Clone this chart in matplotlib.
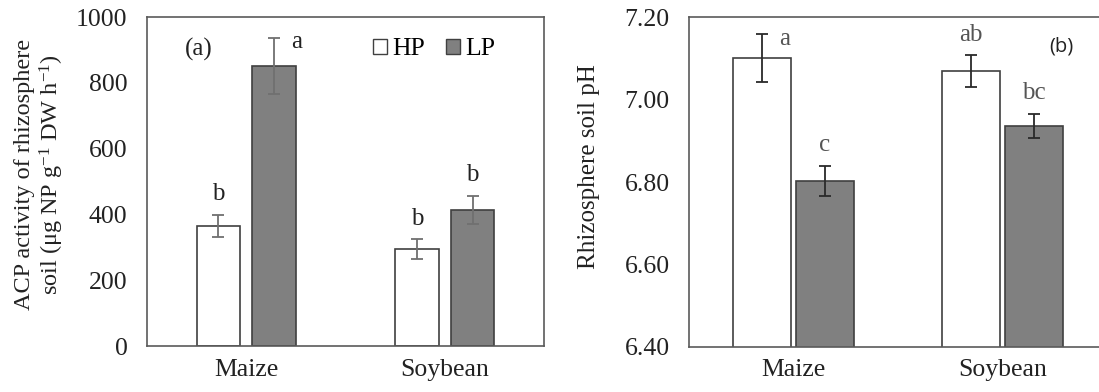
import numpy as np
import matplotlib
matplotlib.use("Agg")
import matplotlib.pyplot as plt
from matplotlib.patches import Patch
from matplotlib.ticker import FormatStrFormatter

plt.rcParams['font.family'] = ['Liberation Serif', 'DejaVu Serif']
plt.rcParams['mathtext.fontset'] = 'custom'
plt.rcParams['mathtext.rm'] = 'Liberation Serif'
plt.rcParams['mathtext.it'] = 'Liberation Serif:italic'

crops = ["Maize", "Soybean"]

# (a) ACP activity
acp_hp = [364, 295]
acp_hp_err = [34, 29]
acp_lp = [851, 413]
acp_lp_err = [85, 42]
acp_hp_letters = ["b", "b"]
acp_lp_letters = ["a", "b"]

# (b) rhizosphere pH
ph_hp = [7.100, 7.069]
ph_hp_err = [0.058, 0.038]
ph_lp = [6.803, 6.936]
ph_lp_err = [0.036, 0.030]
ph_hp_letters = ["a", "ab"]
ph_lp_letters = ["c", "bc"]

edge = "#404040"
lp_fill = "#808080"
spine_c = "#5a5a5a"
txt = "#222222"

fig = plt.figure(figsize=(10.99, 3.92), dpi=100)
ax1 = fig.add_axes([0.1338, 0.1173, 0.3612, 0.8393])
ax2 = fig.add_axes([0.6270, 0.1148, 0.3803, 0.8418])

x = np.arange(len(crops))


def letter(ax, xpos, ytop, s, color, side=False):
    if side:
        ax.annotate(s, (xpos, ytop), xytext=(12, -3), textcoords="offset points",
                    ha="left", va="center", fontsize=18, color=color)
    else:
        ax.annotate(s, (xpos, ytop), xytext=(0, 15), textcoords="offset points",
                    ha="center", va="center", fontsize=18, color=color)


# ---- panel (a)
w1, off1 = 0.22, 0.14
ax1.bar(x - off1, acp_hp, w1, color="white", edgecolor=edge, linewidth=1.2,
        yerr=acp_hp_err, error_kw=dict(ecolor="#707070", capsize=4, elinewidth=1.3, capthick=1.3))
ax1.bar(x + off1, acp_lp, w1, color=lp_fill, edgecolor=edge, linewidth=1.2,
        yerr=acp_lp_err, error_kw=dict(ecolor="#707070", capsize=4, elinewidth=1.3, capthick=1.3))
for i in range(len(crops)):
    letter(ax1, x[i] - off1, acp_hp[i] + acp_hp_err[i], acp_hp_letters[i], txt)
    letter(ax1, x[i] + off1, acp_lp[i] + acp_lp_err[i], acp_lp_letters[i], txt,
           side=(i == 0))
ax1.set_xlim(-0.5, 1.5)
ax1.set_ylim(0, 1000)
ax1.set_yticks(np.arange(0, 1001, 200))
ax1.set_xticks(x)
ax1.set_xticklabels(crops, fontsize=18.5, color=txt)
ax1.tick_params(axis="y", labelsize=18.5, colors=txt, length=0, pad=14)
ax1.tick_params(axis="x", length=0, pad=9)
ax1.set_ylabel("ACP activity of rhizosphere\nsoil (μg NP g$^{-1}$ DW h$^{-1}$)",
               fontsize=17.5, color=txt, linespacing=1.15)
ax1.yaxis.set_label_coords(-0.204, 0.52)
for s in ax1.spines.values():
    s.set_color(spine_c)
    s.set_linewidth(1.2)
ax1.text(0.13, 0.90, "(a)", transform=ax1.transAxes, fontsize=18, color=txt,
         ha="center", va="center")
handles = [Patch(facecolor="white", edgecolor=edge, label="HP"),
           Patch(facecolor=lp_fill, edgecolor=edge, label="LP")]
ax1.legend(handles=handles, loc="upper right", bbox_to_anchor=(0.935, 1.005),
           ncol=2, frameon=False, fontsize=18.5, handlelength=0.55,
           handleheight=0.55, handletextpad=0.2, columnspacing=0.8)

# ---- panel (b)
w2, off2 = 0.28, 0.15
ax2.bar(x - off2, ph_hp, w2, color="white", edgecolor=edge, linewidth=1.2,
        yerr=ph_hp_err, error_kw=dict(ecolor="#2a2a2a", capsize=4, elinewidth=1.3, capthick=1.3))
ax2.bar(x + off2, ph_lp, w2, color=lp_fill, edgecolor=edge, linewidth=1.2,
        yerr=ph_lp_err, error_kw=dict(ecolor="#2a2a2a", capsize=4, elinewidth=1.3, capthick=1.3))
gray_txt = "#555555"
for i in range(len(crops)):
    letter(ax2, x[i] - off2, ph_hp[i] + ph_hp_err[i], ph_hp_letters[i], gray_txt,
           side=(i == 0))
    letter(ax2, x[i] + off2, ph_lp[i] + ph_lp_err[i], ph_lp_letters[i], gray_txt)
ax2.set_xlim(-0.5, 1.5)
ax2.set_ylim(6.4, 7.2)
ax2.set_yticks(np.arange(6.4, 7.21, 0.2))
ax2.yaxis.set_major_formatter(FormatStrFormatter("%.2f"))
ax2.set_xticks(x)
ax2.set_xticklabels(crops, fontsize=18.5, color=txt)
ax2.tick_params(axis="y", labelsize=18.5, colors=txt, length=0, pad=14)
ax2.tick_params(axis="x", length=0, pad=9)
ax2.set_ylabel("Rhizosphere soil pH", fontsize=18, color=txt)
ax2.yaxis.set_label_coords(-0.213, 0.548)
for s in ax2.spines.values():
    s.set_color(spine_c)
    s.set_linewidth(1.2)
ax2.spines["right"].set_visible(False)
ax2.text(0.89, 0.91, "(b)", transform=ax2.transAxes, fontsize=14.5, color=txt,
         ha="center", va="center", family="Open Sans")

fig.savefig("out.png", dpi=100)
